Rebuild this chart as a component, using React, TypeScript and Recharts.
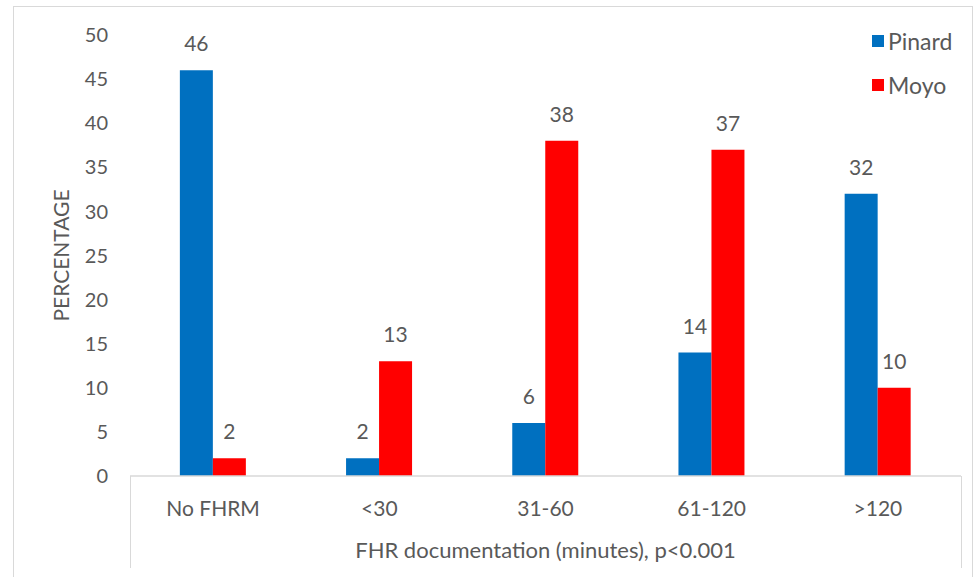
import React from "react";
import { BarChart, Bar, XAxis, YAxis, Legend, LabelList } from "recharts";

const categories = ["No FHRM", "<30", "31-60", "61-120", ">120"];
const pinard = [46, 2, 6, 14, 32];
const moyo = [2, 13, 38, 37, 10];
const yTicks = [0, 5, 10, 15, 20, 25, 30, 35, 40, 45, 50];

const data = categories.map((c, i) => ({ cat: c, Pinard: pinard[i], Moyo: moyo[i] }));

const FONT = "Lato, 'Open Sans', sans-serif";
const TEXT = "#595959";
const LINE = "#d9d9d9";

function LegendBox() {
  const items = [
    { name: "Pinard", color: "#0070C0" },
    { name: "Moyo", color: "#FF0000" },
  ];
  return (
    <div style={{ fontFamily: FONT, fontSize: 23, color: TEXT }}>
      {items.map((it) => (
        <div key={it.name} style={{ display: "flex", alignItems: "center", height: 44 }}>
          <span style={{ width: 12, height: 12, background: it.color, marginRight: 4, display: "inline-block" }} />
          <span>{it.name}</span>
        </div>
      ))}
    </div>
  );
}

export default function App() {
  return (
    <div style={{ position: "absolute", left: 0, top: 0, width: 974, height: 577, background: "#fff" }}>
      <div style={{ position: "absolute", left: 13, top: 6, width: 958, height: 600, border: `1px solid ${LINE}` }} />
      <div style={{ position: "absolute", left: 130, top: 476, width: 1, height: 92, background: LINE }} />
      <div style={{ position: "absolute", left: 961, top: 476, width: 1, height: 92, background: LINE }} />
      <BarChart
        width={974}
        height={577}
        data={data}
        margin={{ top: 35, right: 13, bottom: 0, left: 0 }}
        barCategoryGap="30%"
        barGap={0}
        style={{ position: "absolute", left: 0, top: 0 }}
      >
        <XAxis
          dataKey="cat"
          height={101}
          axisLine={{ stroke: LINE, strokeWidth: 1.5 }}
          tickLine={false}
          tickMargin={19}
          tick={{ fill: TEXT, fontSize: 21, fontFamily: FONT }}
          label={{
            value: "FHR documentation (minutes), p<0.001",
            position: "insideBottom",
            offset: 19,
            fill: TEXT,
            fontSize: 22,
            fontFamily: FONT,
          }}
        />
        <YAxis
          width={130}
          domain={[0, 50]}
          ticks={yTicks}
          axisLine={false}
          tickLine={false}
          tickMargin={16}
          tick={{ fill: TEXT, fontSize: 20, fontFamily: FONT }}
          label={{
            value: "PERCENTAGE",
            angle: -90,
            position: "insideLeft",
            offset: 62,
            fill: TEXT,
            fontSize: 21,
            fontFamily: FONT,
            style: { textAnchor: "middle" },
          }}
        />
        <Legend
          layout="vertical"
          verticalAlign="middle"
          align="center"
          content={() => <LegendBox />}
          wrapperStyle={{ position: "absolute", left: 872, top: 19, width: 100 }}
        />
        <Bar dataKey="Pinard" fill="#0070C0" isAnimationActive={false}>
          <LabelList dataKey="Pinard" position="top" offset={19} fill={TEXT} fontSize={21} fontFamily={FONT} />
        </Bar>
        <Bar dataKey="Moyo" fill="#FF0000" isAnimationActive={false}>
          <LabelList dataKey="Moyo" position="top" offset={19} fill={TEXT} fontSize={21} fontFamily={FONT} />
        </Bar>
      </BarChart>
    </div>
  );
}
